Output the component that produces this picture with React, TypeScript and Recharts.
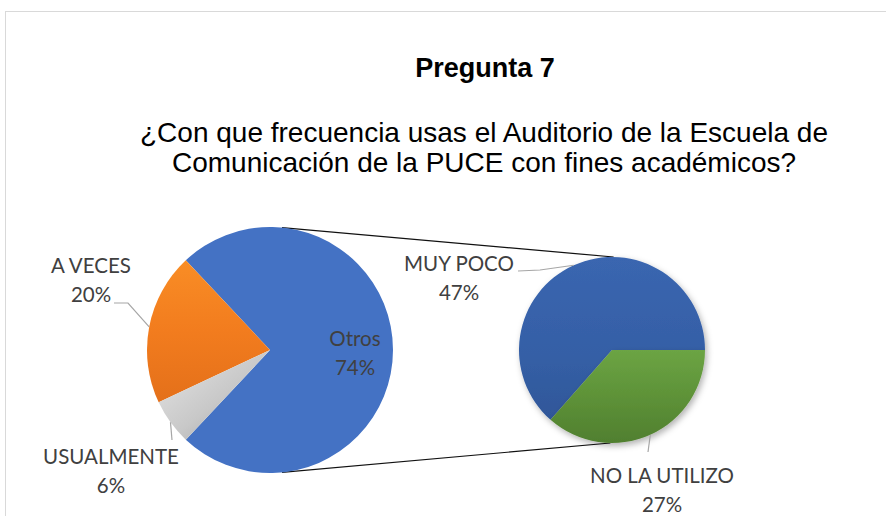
import { Cell, Customized, Pie, PieChart } from 'recharts'

// Pregunta 7 - pie of pie (Excel style)
const mainNames = ['Otros', 'A VECES', 'USUALMENTE']
const mainValues = [74, 20, 6]
const subNames = ['MUY POCO', 'NO LA UTILIZO']
const subValues = [47, 27]

const titleText = 'Pregunta 7'
const subtitleLines = [
  '¿Con que frecuencia usas el Auditorio de la Escuela de',
  'Comunicación de la PUCE con fines académicos?',
]

const W = 886
const H = 516
const MAIN = { cx: 270, cy: 350, r: 123 }
const SUB = { cx: 612, cy: 350, r: 93 }

const mainFills = ['#4472C4', 'url(#gOrange)', 'url(#gGray)']
const subFills = ['url(#gBlue2)', 'url(#gGreen)']

const LABEL_FONT = 'Lato, "Open Sans", sans-serif'
const LABEL_COLOR = '#404040'

// label placement relative to pie center: text center (dx), first baseline (dy), leader elbow points
const labelLayout: Record<string, { dx: number; dy: number; leader?: [number, number][] }> = {
  Otros: { dx: 85, dy: -4 },
  'A VECES': { dx: -179, dy: -77, leader: [[-142, -47], [-156, -47]] },
  USUALMENTE: { dx: -159, dy: 114, leader: [[-98, 90]] },
  'MUY POCO': { dx: -153, dy: -79, leader: [[-72, -80], [-94, -79]] },
  'NO LA UTILIZO': { dx: 50, dy: 133, leader: [[36, 102]] },
}

const mainData = mainNames.map((name, i) => ({ name, value: mainValues[i] }))
const subData = subNames.map((name, i) => ({ name, value: subValues[i] }))

const mainTotal = mainValues.reduce((a, b) => a + b, 0)
const mainStart = -((mainValues[0] / mainTotal) * 360) / 2

const RAD = Math.PI / 180

function renderLabel(props: any) {
  const { cx, cy, midAngle, outerRadius, name, value } = props
  const lay = labelLayout[name]
  if (!lay) return null
  const x = cx + lay.dx
  const y = cy + lay.dy
  let pts = ''
  if (lay.leader) {
    const ex = cx + outerRadius * Math.cos(-midAngle * RAD)
    const ey = cy + outerRadius * Math.sin(-midAngle * RAD)
    pts = [[ex, ey], ...lay.leader.map(([px, py]) => [cx + px, cy + py])].map((p) => p.join(',')).join(' ')
  }
  return (
    <g key={name}>
      {pts && <polyline points={pts} fill="none" stroke="#A6A6A6" strokeWidth={1.2} />}
      <text x={x} y={y} textAnchor="middle" fontFamily={LABEL_FONT} fontSize={20.5} fill={LABEL_COLOR}>
        {name}
      </text>
      <text x={x} y={y + 29} textAnchor="middle" fontFamily={LABEL_FONT} fontSize={20.5} fill={LABEL_COLOR}>
        {`${value}%`}
      </text>
    </g>
  )
}

function Connectors() {
  const p = (c: typeof MAIN, deg: number) => [c.cx + c.r * Math.cos(deg * RAD), c.cy - c.r * Math.sin(deg * RAD)]
  const [a1x, a1y] = p(MAIN, 84.4)
  const [a2x, a2y] = p(MAIN, -84.4)
  const [b1x, b1y] = p(SUB, 89)
  const [b2x, b2y] = p(SUB, -91)
  return (
    <g>
      <line x1={a1x} y1={a1y} x2={b1x} y2={b1y} stroke="#111" strokeWidth={1.2} />
      <line x1={a2x} y1={a2y} x2={b2x} y2={b2y} stroke="#111" strokeWidth={1.2} />
    </g>
  )
}

function Titles() {
  return (
    <g fontFamily='"Liberation Sans", Arial, sans-serif' fill="#000">
      <text x={485} y={77} textAnchor="middle" fontSize={27} fontWeight="bold">
        {titleText}
      </text>
      {subtitleLines.map((t, i) => (
        <text key={i} x={484} y={142 + i * 30} textAnchor="middle" fontSize={28}>
          {t}
        </text>
      ))}
    </g>
  )
}

export default function App() {
  return (
    <div style={{ position: 'absolute', left: 0, top: 0, width: W, height: H, overflow: 'hidden', background: '#fff' }}>
      <div
        style={{
          position: 'absolute',
          left: 5,
          top: 11,
          width: W + 20,
          height: H + 20,
          border: '1px solid #D9D9D9',
        }}
      />
      <div style={{ position: 'absolute', left: 0, top: 0 }}>
        <PieChart width={W} height={H} margin={{ top: 0, right: 0, bottom: 0, left: 0 }}>
          <defs>
            <linearGradient id="gOrange" x1="0" y1="0" x2="0" y2="1">
              <stop offset="0%" stopColor="#F98D25" />
              <stop offset="50%" stopColor="#F27C1E" />
              <stop offset="100%" stopColor="#E4701A" />
            </linearGradient>
            <linearGradient id="gGray" x1="0" y1="0" x2="1" y2="1">
              <stop offset="0%" stopColor="#E6E6E6" />
              <stop offset="55%" stopColor="#C8C8C8" />
              <stop offset="100%" stopColor="#999999" />
            </linearGradient>
            <linearGradient id="gBlue2" x1="0" y1="0" x2="0" y2="1">
              <stop offset="0%" stopColor="#3A66B0" />
              <stop offset="60%" stopColor="#355FA6" />
              <stop offset="100%" stopColor="#2F5799" />
            </linearGradient>
            <linearGradient id="gGreen" x1="0" y1="0" x2="0" y2="1">
              <stop offset="0%" stopColor="#6CA444" />
              <stop offset="45%" stopColor="#5F9439" />
              <stop offset="100%" stopColor="#507F2F" />
            </linearGradient>
            <filter id="shadow" x="-20%" y="-20%" width="140%" height="140%">
              <feDropShadow dx="2" dy="3" stdDeviation="3" floodColor="#000" floodOpacity="0.3" />
            </filter>
          </defs>
          <Customized component={Titles} />
          <Customized component={Connectors} />
          <Pie
            data={mainData}
            dataKey="value"
            nameKey="name"
            cx={MAIN.cx}
            cy={MAIN.cy}
            outerRadius={MAIN.r}
            startAngle={mainStart}
            endAngle={mainStart + 360}
            stroke="none"
            label={renderLabel}
            labelLine={false}
            isAnimationActive={false}
          >
            {mainData.map((d, i) => (
              <Cell key={d.name} fill={mainFills[i]} />
            ))}
          </Pie>
          <Pie
            data={subData}
            dataKey="value"
            nameKey="name"
            cx={SUB.cx}
            cy={SUB.cy}
            outerRadius={SUB.r}
            startAngle={0}
            endAngle={360}
            stroke="none"
            label={renderLabel}
            labelLine={false}
            isAnimationActive={false}
          >
            {subData.map((d, i) => (
              <Cell key={d.name} fill={subFills[i]} filter="url(#shadow)" />
            ))}
          </Pie>
        </PieChart>
      </div>
    </div>
  )
}
